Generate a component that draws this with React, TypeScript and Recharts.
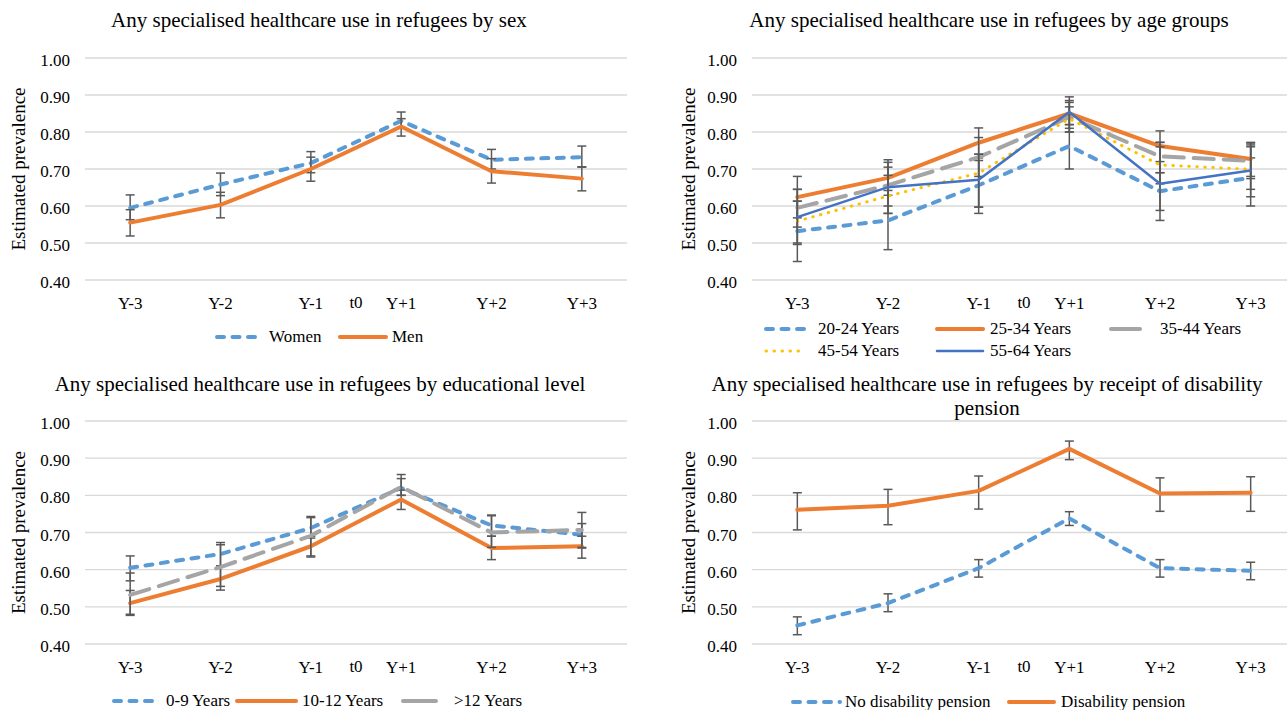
import { LineChart, Line, XAxis, YAxis, CartesianGrid, ErrorBar } from "recharts";

const categories = ["Y-3", "Y-2", "Y-1", "Y+1", "Y+2", "Y+3"];
const yTicks = [0.4, 0.5, 0.6, 0.7, 0.8, 0.9, 1.0];

// by sex
const women = [0.595, 0.658, 0.716, 0.83, 0.725, 0.732];
const womenLow = [0.563, 0.628, 0.69, 0.81, 0.7, 0.705];
const womenHigh = [0.63, 0.689, 0.747, 0.854, 0.753, 0.762];
const men = [0.555, 0.603, 0.7, 0.815, 0.694, 0.674];
const menLow = [0.519, 0.568, 0.667, 0.789, 0.662, 0.641];
const menHigh = [0.59, 0.637, 0.732, 0.836, 0.728, 0.706];

// by age group
const age2024 = [0.532, 0.561, 0.656, 0.762, 0.64, 0.676];
const age2024Low = [0.45, 0.482, 0.58, 0.7, 0.588, 0.625];
const age2024High = [0.613, 0.642, 0.723, 0.82, 0.69, 0.73];
const age2534 = [0.624, 0.676, 0.771, 0.85, 0.762, 0.727];
const age2534Low = [0.568, 0.629, 0.73, 0.82, 0.72, 0.68];
const age2534High = [0.68, 0.725, 0.811, 0.885, 0.803, 0.772];
const age3544 = [0.595, 0.656, 0.732, 0.84, 0.734, 0.722];
const age3544Low = [0.543, 0.6, 0.68, 0.8, 0.69, 0.674];
const age3544High = [0.645, 0.718, 0.785, 0.88, 0.772, 0.77];
const age4554 = [0.559, 0.627, 0.689, 0.836, 0.711, 0.699];
const age4554Low = [0.496, 0.58, 0.597, 0.8, 0.66, 0.645];
const age4554High = [0.613, 0.683, 0.74, 0.868, 0.772, 0.76];
const age5564 = [0.57, 0.651, 0.671, 0.854, 0.66, 0.696];
const age5564Low = [0.5, 0.58, 0.597, 0.81, 0.561, 0.6];
const age5564High = [0.645, 0.705, 0.74, 0.895, 0.76, 0.765];

// by educational level
const edu09 = [0.605, 0.642, 0.712, 0.82, 0.719, 0.694];
const edu09Low = [0.57, 0.61, 0.685, 0.8, 0.69, 0.658];
const edu09High = [0.637, 0.673, 0.743, 0.845, 0.747, 0.724];
const edu1012 = [0.51, 0.575, 0.663, 0.789, 0.658, 0.663];
const edu1012Low = [0.477, 0.545, 0.634, 0.762, 0.627, 0.631];
const edu1012High = [0.544, 0.61, 0.69, 0.814, 0.69, 0.69];
const edu12 = [0.532, 0.607, 0.691, 0.823, 0.7, 0.707];
const edu12Low = [0.48, 0.555, 0.637, 0.8, 0.66, 0.66];
const edu12High = [0.591, 0.667, 0.74, 0.856, 0.745, 0.754];

// by disability pension
const noPension = [0.45, 0.51, 0.604, 0.738, 0.604, 0.597];
const noPensionLow = [0.425, 0.487, 0.58, 0.719, 0.58, 0.573];
const noPensionHigh = [0.473, 0.535, 0.627, 0.756, 0.627, 0.62];
const pension = [0.761, 0.772, 0.812, 0.925, 0.805, 0.807];
const pensionLow = [0.707, 0.721, 0.763, 0.896, 0.757, 0.757];
const pensionHigh = [0.807, 0.816, 0.852, 0.946, 0.847, 0.85];

const BLUE = "#5B9BD5";
const ORANGE = "#ED7D31";
const GREY = "#A5A5A5";
const YELLOW = "#FFC000";
const DARKBLUE = "#4472C4";
const FONT = "'Liberation Serif', 'Times New Roman', serif";

const SHORT_DASH = "7 8.5";
const LONG_DASH = "20 10";
const DOT = "0.5 7.5";

type Series = {
  key: string;
  name: string;
  color: string;
  width: number;
  dash?: string;
  legendDash?: string;
  values: number[];
  low: number[];
  high: number[];
  lx: number; // legend sample start
  lw: number; // legend sample width
  tx: number; // legend text x
  ly: number; // legend row center
};

type Geo = {
  left: number;
  top: number;
  yAxisW: number;
  plotW: number;
  plotH: number;
  marginTop: number;
  tickMargin: number;
  labelX: number;
  titleX: number;
  titleY: number;
};

function buildRows(series: Series[]) {
  return categories.map((cat, i) => {
    const row: Record<string, any> = { cat };
    series.forEach((s) => {
      row[s.key] = s.values[i];
      row[s.key + "Err"] = [s.values[i] - s.low[i], s.high[i] - s.values[i]];
    });
    return row;
  });
}

function Panel({ geo, title, series }: { geo: Geo; title: string[]; series: Series[] }) {
  const rows = buildRows(series);
  const pad = geo.plotW / 12;
  const chartW = geo.yAxisW + geo.plotW + 4;
  const chartH = geo.marginTop + geo.plotH + 40;
  return (
    <div style={{ position: "absolute", left: geo.left, top: geo.top, width: 647, height: 360, overflow: "hidden" }}>
      {title.map((t, i) => (
        <div
          key={i}
          style={{
            position: "absolute",
            left: geo.titleX - 320,
            top: geo.titleY - 12 + i * 24,
            width: 640,
            textAlign: "center",
            fontSize: 21,
            lineHeight: "24px",
            color: "#000",
          }}
        >
          {t}
        </div>
      ))}
      <div style={{ position: "absolute", left: 0, top: 0 }}>
        <LineChart
          width={chartW}
          height={chartH}
          data={rows}
          margin={{ top: geo.marginTop, right: 4, bottom: 10, left: 0 }}
        >
          <CartesianGrid vertical={false} stroke="#D9D9D9" strokeWidth={1.3} />
          <XAxis
            dataKey="cat"
            interval={0}
            axisLine={false}
            tickLine={false}
            tickSize={0}
            tickMargin={geo.tickMargin}
            height={30}
            padding={{ left: pad, right: pad }}
            tick={{ fill: "#000", fontSize: 17 }}
            label={{ value: "t0", position: "center", dy: 7, fill: "#000", fontSize: 17 }}
          />
          <YAxis
            type="number"
            domain={[0.4, 1.0]}
            ticks={yTicks}
            interval={0}
            allowDataOverflow
            width={geo.yAxisW}
            axisLine={false}
            tickLine={false}
            tickSize={0}
            tickMargin={15}
            tickFormatter={(v: number) => v.toFixed(2)}
            tick={{ fill: "#000", fontSize: 17, dy: 2 }}
            label={{
              value: "Estimated prevalence",
              angle: -90,
              position: "insideLeft",
              offset: geo.labelX,
              fill: "#000",
              fontSize: 19,
              style: { textAnchor: "middle" },
            }}
          />
          {series.map((s) => (
            <Line
              key={s.key}
              dataKey={s.key}
              name={s.name}
              stroke={s.color}
              strokeWidth={s.width}
              strokeDasharray={s.dash}
              strokeLinecap="round"
              strokeLinejoin="round"
              dot={false}
              activeDot={false}
              isAnimationActive={false}
            >
              <ErrorBar dataKey={s.key + "Err"} direction="y" width={4.5} stroke="#595959" strokeWidth={1.5} />
            </Line>
          ))}
        </LineChart>
      </div>
      {series.map((s) => (
        <div key={s.key}>
          <svg
            style={{ position: "absolute", left: s.lx, top: s.ly - 10 }}
            width={s.lw}
            height={20}
          >
            <line
              x1={2}
              y1={10}
              x2={s.lw - 2}
              y2={10}
              stroke={s.color}
              strokeWidth={s.width}
              strokeDasharray={s.legendDash ?? s.dash}
              strokeLinecap="round"
            />
          </svg>
          <span
            style={{
              position: "absolute",
              left: s.tx,
              top: s.ly - 10,
              fontSize: 17,
              lineHeight: "20px",
              color: "#000",
              whiteSpace: "nowrap",
            }}
          >
            {s.name}
          </span>
        </div>
      ))}
    </div>
  );
}

const sexSeries: Series[] = [
  { key: "women", name: "Women", color: BLUE, width: 4, dash: SHORT_DASH, values: women, low: womenLow, high: womenHigh, lx: 215, lw: 49, tx: 269, ly: 337 },
  { key: "men", name: "Men", color: ORANGE, width: 4, values: men, low: menLow, high: menHigh, lx: 338, lw: 50, tx: 392, ly: 337 },
];

const ageSeries: Series[] = [
  { key: "a2024", name: "20-24 Years", color: BLUE, width: 4, dash: SHORT_DASH, values: age2024, low: age2024Low, high: age2024High, lx: 124, lw: 49, tx: 178, ly: 329 },
  { key: "a2534", name: "25-34 Years", color: ORANGE, width: 4, values: age2534, low: age2534Low, high: age2534High, lx: 295, lw: 50, tx: 350, ly: 329 },
  { key: "a3544", name: "35-44 Years", color: GREY, width: 4, dash: LONG_DASH, legendDash: "none", values: age3544, low: age3544Low, high: age3544High, lx: 469, lw: 33, tx: 520, ly: 329 },
  { key: "a4554", name: "45-54 Years", color: YELLOW, width: 3, dash: DOT, values: age4554, low: age4554Low, high: age4554High, lx: 124, lw: 44, tx: 178, ly: 351 },
  { key: "a5564", name: "55-64 Years", color: DARKBLUE, width: 2.5, values: age5564, low: age5564Low, high: age5564High, lx: 295, lw: 50, tx: 350, ly: 351 },
];

const eduSeries: Series[] = [
  { key: "e09", name: "0-9 Years", color: BLUE, width: 4, dash: SHORT_DASH, values: edu09, low: edu09Low, high: edu09High, lx: 112, lw: 50, tx: 166, ly: 341 },
  { key: "e1012", name: "10-12 Years", color: ORANGE, width: 4, values: edu1012, low: edu1012Low, high: edu1012High, lx: 235, lw: 63, tx: 302, ly: 341 },
  { key: "e12", name: ">12 Years", color: GREY, width: 4, dash: LONG_DASH, legendDash: "none", values: edu12, low: edu12Low, high: edu12High, lx: 401, lw: 37, tx: 454, ly: 341 },
];

const pensionSeries: Series[] = [
  { key: "np", name: "No disability pension", color: BLUE, width: 4, dash: SHORT_DASH, values: noPension, low: noPensionLow, high: noPensionHigh, lx: 151, lw: 51, tx: 205, ly: 342 },
  { key: "p", name: "Disability pension", color: ORANGE, width: 4, values: pension, low: pensionLow, high: pensionHigh, lx: 367, lw: 49, tx: 421, ly: 342 },
];

export default function App() {
  return (
    <div
      style={{
        position: "absolute",
        left: 0,
        top: 0,
        width: 1287,
        height: 710,
        overflow: "hidden",
        background: "#fff",
        fontFamily: FONT,
      }}
    >
      <Panel
        geo={{ left: 0, top: 0, yAxisW: 85, plotW: 542, plotH: 222, marginTop: 58, tickMargin: 17, labelX: 18, titleX: 319, titleY: 20 }}
        title={["Any specialised healthcare use in refugees by sex"]}
        series={sexSeries}
      />
      <Panel
        geo={{ left: 640, top: 0, yAxisW: 112, plotW: 544, plotH: 222, marginTop: 58, tickMargin: 17, labelX: 48, titleX: 349, titleY: 20 }}
        title={["Any specialised healthcare use in refugees by age groups"]}
        series={ageSeries}
      />
      <Panel
        geo={{ left: 0, top: 360, yAxisW: 85, plotW: 542, plotH: 223, marginTop: 61, tickMargin: 17, labelX: 18, titleX: 320, titleY: 24 }}
        title={["Any specialised healthcare use in refugees by educational level"]}
        series={eduSeries}
      />
      <Panel
        geo={{ left: 640, top: 360, yAxisW: 112, plotW: 544, plotH: 223, marginTop: 61, tickMargin: 17, labelX: 48, titleX: 347, titleY: 24 }}
        title={["Any specialised healthcare use in refugees by receipt of disability", "pension"]}
        series={pensionSeries}
      />
    </div>
  );
}
